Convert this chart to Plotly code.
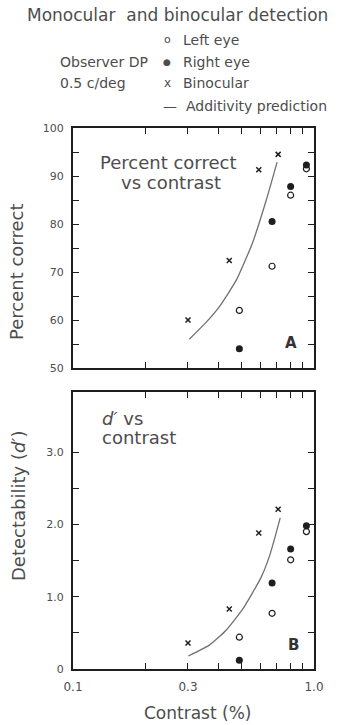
import plotly.graph_objects as go

# ---- data -------------------------------------------------------------
# contrast levels (%) used for monocular and binocular viewing
mono_contrast = [0.49, 0.67, 0.80, 0.93]
bino_contrast = [0.30, 0.445, 0.59, 0.71]

# Panel A: percent correct
pc_left = [62.0, 71.2, 86.0, 91.5]
pc_right = [54.0, 80.5, 87.8, 92.3]
pc_bino = [60.0, 72.4, 91.3, 94.5]
pc_pred_contrast = [0.304, 0.358, 0.405, 0.476, 0.555, 0.634, 0.703]
pc_pred = [56.0, 59.6, 62.8, 68.3, 76.0, 85.0, 92.9]

# Panel B: detectability d'
d_left = [0.44, 0.77, 1.51, 1.90]
d_right = [0.12, 1.19, 1.66, 1.98]
d_bino = [0.36, 0.83, 1.88, 2.21]
d_pred_contrast = [0.301, 0.368, 0.433, 0.504, 0.555, 0.604, 0.652, 0.690, 0.724]
d_pred = [0.18, 0.33, 0.54, 0.82, 1.05, 1.27, 1.55, 1.83, 2.09]

x_tickvals = [0.1, 0.2, 0.3, 0.4, 0.5, 0.6, 0.7, 0.8, 0.9, 1.0]
x_ticktext = ["0.1", "", "0.3", "", "", "", "", "", "", "1.0"]
pc_tickvals = [50, 55, 60, 65, 70, 75, 80, 85, 90, 95, 100]
pc_ticktext = ["50", "", "60", "", "70", "", "80", "", "90", "", "100"]
d_tickvals = [0, 0.5, 1.0, 1.5, 2.0, 2.5, 3.0]
d_ticktext = ["0", "", "1.0", "", "2.0", "", "3.0"]

series_names = ["Left eye", "Right eye", "Binocular", "Additivity prediction"]

# ---- layout geometry (pixels) -----------------------------------------
W, H = 339, 725
L, R, T, B = 73, 25, 128, 56
PW = W - L - R
PH = H - T - B


def px(x):
    return (x - L) / PW


def py(y):
    return (H - B - y) / PH


FONT = "DejaVu Sans"
TXT = "#4d4d4d"
INK = "#1e1e1e"

fig = go.Figure()

styles = [
    dict(symbol="circle-open", size=6, color=INK, line=dict(width=1.2, color=INK)),
    dict(symbol="circle", size=7, color=INK),
    dict(symbol="x-thin", size=5, color=INK, line=dict(width=1.5, color=INK)),
]

for xa, ya, yl, yr, yb, pcx, pcy in [
    ("x", "y", pc_left, pc_right, pc_bino, pc_pred_contrast, pc_pred),
    ("x2", "y2", d_left, d_right, d_bino, d_pred_contrast, d_pred),
]:
    fig.add_trace(go.Scatter(x=pcx, y=pcy, mode="lines", name=series_names[3],
                             line=dict(color="#707070", width=1.3, shape="spline", smoothing=0.5),
                             xaxis=xa, yaxis=ya, showlegend=False))
    fig.add_trace(go.Scatter(x=mono_contrast, y=yl, mode="markers", name=series_names[0],
                             marker=styles[0], xaxis=xa, yaxis=ya, showlegend=False))
    fig.add_trace(go.Scatter(x=mono_contrast, y=yr, mode="markers", name=series_names[1],
                             marker=styles[1], xaxis=xa, yaxis=ya, showlegend=False))
    fig.add_trace(go.Scatter(x=bino_contrast, y=yb, mode="markers", name=series_names[2],
                             marker=styles[2], xaxis=xa, yaxis=ya, showlegend=False))

axis_common = dict(
    showline=True, linewidth=2, linecolor=INK, mirror="ticks",
    ticks="inside", ticklen=6, tickwidth=1.2, tickcolor=INK,
    showgrid=False, zeroline=False,
    tickfont=dict(family=FONT, size=11, color=TXT),
)

fig.update_layout(
    width=W, height=H,
    margin=dict(l=L, r=R, t=T, b=B, pad=0),
    paper_bgcolor="white", plot_bgcolor="white",
    showlegend=False,
    xaxis=dict(type="log", range=[-1, 0], domain=[0, 1], anchor="y",
               tickvals=x_tickvals, ticktext=x_ticktext, showticklabels=False, **axis_common),
    yaxis=dict(range=[50, 100], domain=[py(368), 1.0], anchor="x",
               tickvals=pc_tickvals, ticktext=pc_ticktext, ticklabelstandoff=5, **axis_common),
    xaxis2=dict(type="log", range=[-1, 0], domain=[0, 1], anchor="y2",
                tickvals=x_tickvals, ticktext=x_ticktext, ticklabelstandoff=6, **axis_common),
    yaxis2=dict(range=[0, 3.83], domain=[0, py(392)], anchor="x2",
                tickvals=d_tickvals, ticktext=d_ticktext, ticklabelstandoff=5, **axis_common),
)
fig.update_xaxes(tickfont=dict(size=12))


def note(text, x, y, size, xanchor="center", angle=0, color=TXT):
    fig.add_annotation(text=text, x=px(x), y=py(y), xref="paper", yref="paper",
                       xanchor=xanchor, yanchor="middle", showarrow=False, textangle=angle,
                       font=dict(family=FONT, size=size, color=color))


# title and key
note("Monocular  and binocular detection", 177, 15, 17)
note("Observer DP", 58, 62, 14, xanchor="left")
note("0.5 c/deg", 58, 83, 14, xanchor="left")
key_rows = [("o", 40, 11), ("●", 62, 9), ("x", 83, 12)]
for (sym, y, s), name in zip(key_rows, series_names[:3]):
    note(sym, 167, y, s)
    note(name, 181, y, 14, xanchor="left")
note("—", 170, 106, 14)
note(series_names[3], 184, 106, 14, xanchor="left")

# panel captions
note("Percent correct", 168, 162, 18)
note("vs contrast", 171, 183, 18)
note("<i>d′</i> vs", 100, 419, 18, xanchor="left")
note("contrast", 100, 438, 18, xanchor="left")
note("<b>A</b>", 291, 343, 15, color="#333")
note("<b>B</b>", 293, 645, 15, color="#333")

# axis titles
note("Percent correct", 16, 272, 18, angle=-90)
note("Detectability (<i>d′</i>)", 18, 506, 18, angle=-90)
note("Contrast (%)", 197, 713, 17)

fig.write_html("out.html")
